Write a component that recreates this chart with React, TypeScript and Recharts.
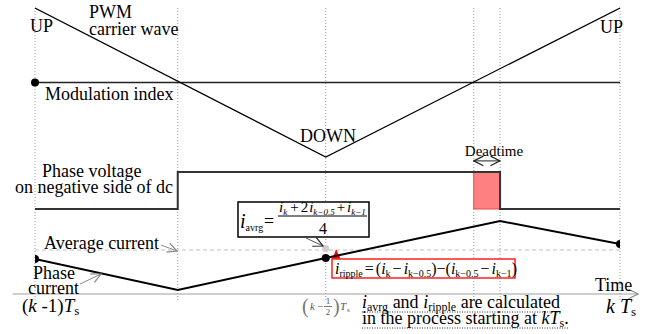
import React from "react";
import {
  ComposedChart,
  Line,
  Scatter,
  XAxis,
  YAxis,
  ReferenceLine,
  ReferenceArea,
  ReferenceDot,
} from "recharts";

// ---------------------------------------------------------------------------
// PWM carrier / phase voltage / phase current timing diagram over one period
// ---------------------------------------------------------------------------

const W = 664;
const H = 334;
const PLOT_TOP = 6;
const PLOT_BOTTOM = 300;
const SERIF = '"Liberation Serif", "Times New Roman", Times, "DejaVu Serif", serif';

// time instants in units of Ts, measured from (k-1)Ts
const T_PREV = 0;
const T_CROSS_DOWN = 0.244;
const T_HALF = 0.497;
const T_CROSS_UP = 0.75;
const T_DEAD_END = 0.795;
const T_K = 1;
const GRID_TIMES = [T_PREV, T_CROSS_DOWN, T_HALF, T_CROSS_UP, T_DEAD_END, T_K];

// PWM carrier (normalised), UP -> DOWN -> UP
const CARRIER_T = [T_PREV, T_HALF, T_K];
const CARRIER_V = [1, -1, 1];
const MOD_INDEX = 0;

// phase voltage on negative side of dc (0 low, 1 high)
const VOLT_T = [T_PREV, T_CROSS_DOWN, T_DEAD_END, T_K];
const VOLT_V = [0, 1, 0, 0];
const DEADTIME_MARK = 1.3;

// phase current (arbitrary units)
const CURR_T = [T_PREV, T_CROSS_DOWN, T_HALF, T_DEAD_END, T_K];
const CURR_V = [3.5, 0.4, 3.6, 7.3, 5.0];
const SAMPLE_T = [T_PREV, T_HALF, T_K];
const AVG_CURRENT = 4.4;
const AVG_MARK = 4.55;
const RIPPLE_MARK_T = 0.515;
const RIPPLE_MARK_FROM = 3.5;
const TIME_AXIS_FROM = -0.038;
const TIME_AXIS_TO = 1.031;

// maps two (value, pixel) pairs onto a domain covering the plot height
function domainFor(v1: number, px1: number, v2: number, px2: number): [number, number] {
  const s = (v1 - v2) / (px1 - px2);
  return [v1 + (PLOT_BOTTOM - px1) * s, v1 + (PLOT_TOP - px1) * s];
}
const CARRIER_DOMAIN = domainFor(1, 8, -1, 157);
const VOLT_DOMAIN = domainFor(1, 172, 0, 209);
const CURR_DOMAIN = domainFor(0, 294, 1, 284);

const carrier = CARRIER_T.map((t, i) => ({ t, v: CARRIER_V[i] }));
const voltage = VOLT_T.map((t, i) => ({ t, v: VOLT_V[i] }));
const current = CURR_T.map((t, i) => ({ t, v: CURR_V[i] }));
const samples = current.filter((p) => SAMPLE_T.includes(p.t));

type Piece = { s: string; it?: boolean; sub?: boolean; dx?: number };

function Rich({
  x,
  y,
  size,
  subSize,
  subShift = 4,
  pieces,
  fill = "#000",
}: {
  x: number;
  y: number;
  size: number;
  subSize: number;
  subShift?: number;
  pieces: Piece[];
  fill?: string;
}) {
  let cur = 0;
  return (
    <text x={x} y={y} fill={fill} style={{ whiteSpace: "pre", fontFamily: SERIF, fontSize: size }}>
      {pieces.map((p, i) => {
        const target = p.sub ? subShift : 0;
        const dy = target - cur;
        cur = target;
        return (
          <tspan
            key={i}
            dy={dy}
            dx={p.dx}
            style={{ fontSize: p.sub ? subSize : size, fontStyle: p.it ? "italic" : "normal" }}
          >
            {p.s}
          </tspan>
        );
      })}
    </text>
  );
}

function Txt({ x, y, size = 18, children, anchor = "start", italic = false, fill = "#000" }: any) {
  return (
    <text
      x={x}
      y={y}
      textAnchor={anchor}
      fill={fill}
      style={{ fontFamily: SERIF, fontSize: size, fontStyle: italic ? "italic" : "normal" }}
    >
      {children}
    </text>
  );
}

function Overlay() {
  return (
    <svg
      width={W}
      height={H}
      style={{ position: "absolute", left: 0, top: 0, pointerEvents: "none", fontFamily: SERIF }}
    >
      <defs>
        <marker id="arrGrey" markerUnits="userSpaceOnUse" markerWidth={12} markerHeight={12}
          refX={8} refY={4} orient="auto-start-reverse" viewBox="-1 -1 10 10">
          <path d="M0,0 L8,4 L0,8" fill="none" stroke="#8a8a8a" strokeWidth={1} />
        </marker>
        <marker id="arrBlack" markerUnits="userSpaceOnUse" markerWidth={12} markerHeight={12}
          refX={8} refY={4} orient="auto-start-reverse" viewBox="-1 -1 10 10">
          <path d="M0,0 L8,4 L0,8" fill="none" stroke="#222" strokeWidth={1} />
        </marker>
        <marker id="arrRed" markerUnits="userSpaceOnUse" markerWidth={10} markerHeight={10}
          refX={7} refY={3.5} orient="auto" viewBox="0 0 8 8">
          <path d="M0,0 L7,3.5 L0,7 Z" fill="#ff0000" />
        </marker>
      </defs>

      {/* carrier / modulation labels */}
      <Txt x={30} y={32}>UP</Txt>
      <Txt x={600} y={33}>UP</Txt>
      <Txt x={89} y={18}>PWM</Txt>
      <Txt x={89} y={35}>carrier wave</Txt>
      <Txt x={45} y={100}>Modulation index</Txt>
      <Txt x={300} y={142}>DOWN</Txt>

      {/* phase voltage labels */}
      <Txt x={42} y={177}>Phase voltage</Txt>
      <Txt x={15} y={193}>on negative side of dc</Txt>
      <Txt x={494} y={156} size={15} anchor="middle">Deadtime</Txt>

      {/* current labels */}
      <Txt x={44} y={249}>Average current</Txt>
      <line x1={161} y1={245} x2={177} y2={251} stroke="#8a8a8a" strokeWidth={1} markerEnd="url(#arrGrey)" />
      <Txt x={33} y={279}>Phase</Txt>
      <Txt x={28} y={294}>current</Txt>
      <line x1={80} y1={284} x2={101} y2={274} stroke="#8a8a8a" strokeWidth={1} markerEnd="url(#arrGrey)" />

      {/* time axis labels */}
      <Rich x={22} y={312} size={19} subSize={13} subShift={3}
        pieces={[{ s: "(" }, { s: "k", it: true }, { s: " -1)" }, { s: "T", it: true }, { s: "s", sub: true }]} />
      <Txt x={595} y={291}>Time</Txt>
      <Rich x={606} y={313} size={20} subSize={13} subShift={3}
        pieces={[{ s: "k", it: true }, { s: " T", it: true }, { s: "s", sub: true }]} />

      {/* (k - 1/2) Ts */}
      <g>
        <Txt x={302} y={313} size={20} fill="#777">(</Txt>
        <Txt x={310} y={310} size={11} italic fill="#555">k</Txt>
        <Txt x={317} y={310} size={11} fill="#555">−</Txt>
        <Txt x={328} y={304} size={9} anchor="middle" fill="#555">1</Txt>
        <line x1={324} y1={306.5} x2={332} y2={306.5} stroke="#555" strokeWidth={0.8} />
        <Txt x={328} y={315} size={9} anchor="middle" fill="#555">2</Txt>
        <Txt x={333} y={313} size={20} fill="#777">)</Txt>
        <Txt x={340} y={310} size={11} italic fill="#555">T</Txt>
        <Txt x={347} y={312} size={7} fill="#555">s</Txt>
      </g>

      {/* explanatory note */}
      <Rich x={362} y={308} size={18} subSize={12} subShift={3}
        pieces={[
          { s: "i", it: true }, { s: "avrg", sub: true }, { s: " and " },
          { s: "i", it: true }, { s: "ripple", sub: true }, { s: " are calculated" },
        ]} />
      <line x1={362} y1={312} x2={562} y2={312} stroke="#333" strokeWidth={1} strokeDasharray="1 1.5" />
      <Rich x={362} y={324} size={18} subSize={12} subShift={3}
        pieces={[
          { s: "in the process starting at " }, { s: "kT", it: true }, { s: "s", sub: true }, { s: "." },
        ]} />
      <line x1={362} y1={328} x2={568} y2={328} stroke="#333" strokeWidth={1} strokeDasharray="1 1.5" />

      {/* i_avrg formula box */}
      <rect x={238} y={202} width={131} height={35} fill="#fff" stroke="#000" strokeWidth={1.5} />
      <Rich x={240} y={228} size={20} subSize={10} subShift={3}
        pieces={[{ s: "i", it: true }, { s: "avrg", sub: true }]} />
      <Txt x={264} y={227} size={18}>=</Txt>
      <line x1={278} y1={216} x2={367} y2={216} stroke="#000" strokeWidth={1} />
      <Rich x={279} y={212} size={15} subSize={9} subShift={2.5}
        pieces={[
          { s: "i", it: true }, { s: "k", sub: true, it: true }, { s: "+", dx: 3 }, { s: "2", dx: 2 },
          { s: "i", it: true, dx: 1 }, { s: "k−0.5", sub: true, it: true }, { s: "+", dx: 2 },
          { s: "i", it: true, dx: 2 }, { s: "k−1", sub: true, it: true },
        ]} />
      <Txt x={323} y={234} size={16} anchor="middle">4</Txt>
      <line x1={306} y1={238} x2={323} y2={246} stroke="#555" strokeWidth={1} markerEnd="url(#arrBlack)" />

      {/* i_ripple formula box */}
      <rect x={332} y={259} width={183} height={19} fill="#fff" stroke="#ff2020" strokeWidth={1.5} />
      <Rich x={335} y={274} size={16} subSize={10} subShift={3}
        pieces={[
          { s: "i", it: true }, { s: "ripple", sub: true }, { s: "=", dx: 2 }, { s: "(", dx: 2 },
          { s: "i", it: true }, { s: "k", sub: true }, { s: "−", dx: 2 },
          { s: "i", it: true, dx: 2 }, { s: "k−0.5", sub: true }, { s: ")−(" },
          { s: "i", it: true }, { s: "k−0.5", sub: true }, { s: "−", dx: 2 },
          { s: "i", it: true, dx: 2 }, { s: "k−1", sub: true }, { s: ")" },
        ]} />
    </svg>
  );
}

export default function App() {
  return (
    <div style={{ position: "absolute", left: 0, top: 0, width: W, height: H, background: "#fff" }}>
      <ComposedChart
        width={W}
        height={H}
        margin={{ top: PLOT_TOP, right: 44, bottom: H - PLOT_BOTTOM, left: 35 }}
      >
        <XAxis type="number" dataKey="t" domain={[0, 1]} allowDataOverflow hide />
        <YAxis yAxisId="carrier" type="number" domain={CARRIER_DOMAIN} allowDataOverflow hide />
        <YAxis yAxisId="volt" type="number" domain={VOLT_DOMAIN} allowDataOverflow hide />
        <YAxis yAxisId="curr" type="number" domain={CURR_DOMAIN} allowDataOverflow hide />

        {GRID_TIMES.map((t) => (
          <ReferenceLine key={t} x={t} yAxisId="curr" stroke="#9a9a9a" strokeDasharray="1 2" />
        ))}

        {/* time axis */}
        <ReferenceLine
          yAxisId="curr"
          segment={[{ x: TIME_AXIS_FROM, y: 0 }, { x: TIME_AXIS_TO, y: 0 }]}
          ifOverflow="visible"
          stroke="#a0a0a0"
          strokeWidth={1.2}
          markerEnd="url(#arrGrey)"
        />

        {/* carrier & modulation index */}
        <ReferenceLine yAxisId="carrier" y={MOD_INDEX} stroke="#222" strokeWidth={1.6} />
        <Line data={carrier} dataKey="v" yAxisId="carrier" type="linear" stroke="#000"
          strokeWidth={1.2} dot={false} isAnimationActive={false} />
        <ReferenceDot yAxisId="carrier" x={T_PREV} y={MOD_INDEX} r={4} fill="#000" stroke="none" />

        {/* phase voltage with deadtime */}
        <ReferenceArea yAxisId="volt" x1={T_CROSS_UP} x2={T_DEAD_END} y1={0} y2={1}
          fill="#ff8080" fillOpacity={1} stroke="#e04848" strokeWidth={1} />
        <Line data={voltage} dataKey="v" yAxisId="volt" type="stepAfter" stroke="#333"
          strokeWidth={2} dot={false} isAnimationActive={false} />
        <ReferenceLine
          yAxisId="volt"
          segment={[{ x: T_CROSS_UP, y: DEADTIME_MARK }, { x: T_DEAD_END, y: DEADTIME_MARK }]}
          stroke="#222"
          strokeWidth={1}
          markerStart="url(#arrBlack)"
          markerEnd="url(#arrBlack)"
        />

        {/* average current */}
        <ReferenceLine
          yAxisId="curr"
          segment={[{ x: T_PREV, y: AVG_CURRENT }, { x: T_K, y: AVG_CURRENT }]}
          stroke="#c0c0c0"
          strokeDasharray="4 3"
        />
        <ReferenceDot yAxisId="curr" x={T_HALF} y={AVG_MARK} r={3.5} fill="#cfcfcf" stroke="none" />
        <ReferenceLine
          yAxisId="curr"
          segment={[{ x: RIPPLE_MARK_T, y: RIPPLE_MARK_FROM }, { x: RIPPLE_MARK_T, y: AVG_CURRENT }]}
          stroke="#ff0000"
          strokeWidth={1.5}
          markerEnd="url(#arrRed)"
        />

        {/* phase current */}
        <Line data={current} dataKey="v" yAxisId="curr" type="linear" stroke="#000"
          strokeWidth={2} dot={false} isAnimationActive={false} />
        <Scatter data={samples} dataKey="v" yAxisId="curr" isAnimationActive={false}
          shape={(p: any) => <circle cx={p.cx} cy={p.cy} r={4} fill="#000" />} />
      </ComposedChart>
      <Overlay />
    </div>
  );
}
